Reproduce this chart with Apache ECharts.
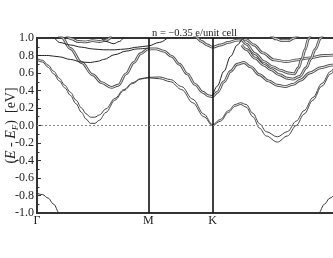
<!DOCTYPE html>
<html><head><meta charset="utf-8">
<script src="https://cdn.jsdelivr.net/npm/echarts@6/dist/echarts.min.js"></script>
<style>html,body{margin:0;padding:0;background:#fff}#c{width:333px;height:258px}</style>
</head><body><div id="c"></div>
<script>
// high-symmetry k positions (path length) and their labels
const kPoints = [0, 1, 1.577, 2.732];
const kLabels = ['Γ', 'M', 'K', 'Γ'];
const titleText = 'n = \u22120.35 e/unit cell';

// bands: [k, E - E_F (eV)]
const valenceLeft = [[0,-0.775],[0.05,-0.79],[0.1,-0.83],[0.15,-0.9],[0.2,-1.0],[0.25,-1.12]];
const valenceRight = [[2.48,-1.13],[2.532,-1.0],[2.582,-0.9],[2.632,-0.83],[2.682,-0.79],[2.732,-0.775]];
const bandLlo = [[0,0.745],[0.05,0.725],[0.1,0.665],[0.15,0.59],[0.2,0.51],[0.25,0.43],[0.3,0.345],[0.35,0.25],[0.4,0.15],[0.44,0.075],[0.48,0.025],[0.52,0.025],[0.56,0.06],[0.62,0.15],[0.7,0.29],[0.78,0.40],[0.86,0.48],[0.93,0.53],[1.0,0.545],
  [1.1,0.535],[1.2,0.50],[1.3,0.41],[1.4,0.26],[1.5,0.10],[1.577,0.0],
  [1.65,0.05],[1.72,0.15],[1.78,0.22],[1.83,0.24],[1.88,0.21],[1.94,0.10],[2.0,-0.03],[2.06,-0.12],[2.16,-0.19],[2.25,-0.12],[2.33,0.0],[2.4,0.13],[2.48,0.29],[2.56,0.45],[2.64,0.59],[2.7,0.69],[2.732,0.745]];
const bandLhi = [[0,0.765],[0.05,0.745],[0.1,0.69],[0.15,0.62],[0.2,0.54],[0.25,0.46],[0.3,0.38],[0.35,0.29],[0.4,0.20],[0.44,0.135],[0.48,0.095],[0.52,0.095],[0.56,0.12],[0.62,0.19],[0.7,0.31],[0.78,0.41],[0.86,0.49],[0.93,0.535],[1.0,0.55],
  [1.1,0.555],[1.2,0.525],[1.3,0.445],[1.4,0.30],[1.5,0.13],[1.577,0.01],
  [1.65,0.07],[1.72,0.17],[1.78,0.24],[1.83,0.26],[1.88,0.24],[1.94,0.14],[2.0,0.02],[2.06,-0.07],[2.16,-0.13],[2.25,-0.07],[2.33,0.05],[2.4,0.17],[2.48,0.32],[2.56,0.48],[2.64,0.62],[2.7,0.715],[2.732,0.765]];
const bandB = [[0.15,1.12],[0.22,1.01],[0.3,0.88],[0.4,0.72],[0.5,0.58],[0.58,0.49],[0.67,0.435],[0.73,0.46],[0.8,0.59],[0.87,0.72],[0.93,0.82],[1.0,0.875],
  [1.07,0.875],[1.14,0.85],[1.21,0.79],[1.28,0.70],[1.35,0.59],[1.42,0.47],[1.49,0.38],[1.54,0.34],[1.577,0.33],
  [1.62,0.38],[1.68,0.50],[1.74,0.62],[1.8,0.70],[1.86,0.72],[1.92,0.67],[2.0,0.58],[2.08,0.51],[2.16,0.46],[2.23,0.445],[2.3,0.47],[2.37,0.52],[2.45,0.60],[2.55,0.66],[2.65,0.69],[2.732,0.71]];
const bandTop = [[1.38,1.1],[1.42,1.02],[1.48,0.96],[1.53,0.92],[1.577,0.895],[1.65,0.92],[1.72,0.95],[1.8,0.975],[1.88,0.98],[1.95,0.92],[2.03,0.83],[2.13,0.75],[2.24,0.73],[2.34,0.75],[2.43,0.77],[2.58,0.80],[2.732,0.81]];
const bandC = [[1.84,0.99],[1.88,0.93],[1.96,0.82],[2.04,0.73],[2.12,0.67],[2.19,0.63],[2.26,0.60],[2.31,0.59],[2.35,0.66],[2.38,0.76],[2.41,0.87],[2.44,0.99],[2.47,1.08]];
const bandD = [[1.84,0.92],[1.88,0.87],[1.96,0.77],[2.04,0.69],[2.1,0.64],[2.18,0.58],[2.25,0.54],[2.3,0.53],[2.36,0.56],[2.42,0.66],[2.46,0.76],[2.5,0.87],[2.55,1.0],[2.58,1.08]];
const bandT1 = [[0,0.80],[0.1,0.80],[0.2,0.785],[0.3,0.755],[0.4,0.725],[0.48,0.72],[0.55,0.735],[0.6,0.755],[0.7,0.81],[0.8,0.85],[0.9,0.875],[1.0,0.885]];
const bandT2 = [[0.25,1.05],[0.31,0.99],[0.37,0.96],[0.43,0.955],[0.5,0.97],[0.56,0.96],[0.62,0.975],[0.67,1.02]];
const bandT3 = [[0.55,1.04],[0.62,0.96],[0.69,0.935],[0.74,0.96],[0.79,1.03]];
const bandT4 = [[0.1,1.05],[0.15,1.0],[0.2,0.95],[0.3,0.92],[0.4,0.895],[0.5,0.875],[0.6,0.865],[0.7,0.865],[0.8,0.875],[0.9,0.895],[1.0,0.91],[1.1,0.95],[1.2,1.03]];
const bandT5 = [[2.1,1.03],[2.15,0.99],[2.2,0.97],[2.26,0.97],[2.31,1.0],[2.35,1.04]];
const bandK1 = [[1.577,0.34],[1.62,0.45],[1.68,0.62],[1.74,0.79],[1.8,0.92],[1.85,0.99],[1.9,1.05]];

const serif = '"Liberation Serif","DejaVu Serif",serif';
const series = [];
function thin(data, color) {
  series.push({type:'line', data, showSymbol:false, smooth:0.35, smoothMonotone:'x', silent:true,
    lineStyle:{color, width:1}});
}
function hollow(data) {
  series.push({type:'line', data, showSymbol:false, smooth:0.35, smoothMonotone:'x', silent:true,
    lineStyle:{color:'#555', width:2.8}});
  series.push({type:'line', data, showSymbol:false, smooth:0.35, smoothMonotone:'x', silent:true,
    lineStyle:{color:'#fff', width:0.9}});
}
thin(valenceLeft, '#333');
thin(valenceRight, '#333');
hollow(bandB);
hollow(bandTop);
hollow(bandC);
hollow(bandD);
hollow(bandT2);
hollow(bandT5);
thin(bandT1, '#222');
thin(bandT3, '#222');
thin(bandT4, '#222');
thin(bandK1, '#222');
thin(bandLlo, '#444');
thin(bandLhi, '#444');
// markers: high-symmetry verticals and Fermi level
series.push({type:'line', data:[], silent:true,
  markLine:{symbol:'none', silent:true, label:{show:false}, animation:false,
    data:[
      {xAxis:kPoints[1], lineStyle:{color:'#111', width:1.6, type:'solid'}},
      {xAxis:kPoints[2], lineStyle:{color:'#111', width:1.6, type:'solid'}},
      {yAxis:0, lineStyle:{color:'#8a8a8a', width:1, type:[2,2]}}
    ]}});

const chart = echarts.init(document.getElementById('c'), null, {renderer:'canvas'});
chart.setOption({
  animation:false,
  backgroundColor:'#fff',
  title:{text:titleText, left:147, top:23, textStyle:{fontFamily:serif, fontSize:10.5, fontWeight:'normal', color:'#222'}},
  grid:{left:37, right:-8, top:38, bottom:45, containLabel:false, outerBoundsMode:'none', show:true, borderColor:'#333', borderWidth:2, backgroundColor:'transparent'},
  xAxis:{type:'value', min:kPoints[0], max:kPoints[3],
    axisLine:{show:true, onZero:false, lineStyle:{color:'#333', width:2}},
    axisTick:{show:false},
    splitLine:{show:false},
    axisLabel:{customValues:kPoints.slice(0,3), formatter:(v)=>{const i=kPoints.findIndex(p=>Math.abs(p-v)<1e-6);return i>=0?kLabels[i]:'';},
      fontFamily:serif, fontSize:12, color:'#222', margin:2}},
  yAxis:{type:'value', min:-1, max:1, interval:0.2,
    name:'{p|(}{i|E}{p| - }{i|E}{s|F}{p|)  [eV]}', nameLocation:'middle', nameGap:17, nameRotate:90, nameMoveOverlap:false,
    nameTextStyle:{rich:{p:{fontFamily:serif, fontSize:14, color:'#222'}, i:{fontFamily:serif, fontSize:14, fontStyle:'italic', color:'#222'}, s:{fontFamily:serif, fontSize:9, fontStyle:'italic', color:'#222', padding:[8,0,0,0]}}},
    axisLine:{show:true, onZero:false, lineStyle:{color:'#333', width:2}},
    axisTick:{show:true, inside:true, length:4, lineStyle:{color:'#333', width:1}},
    minorTick:{show:true, splitNumber:2, length:2.5, lineStyle:{color:'#333', width:1}},
    splitLine:{show:false},
    axisLabel:{formatter:(v)=>v.toFixed(1), fontFamily:serif, fontSize:12, color:'#222', margin:3}},
  series
});
</script></body></html>
